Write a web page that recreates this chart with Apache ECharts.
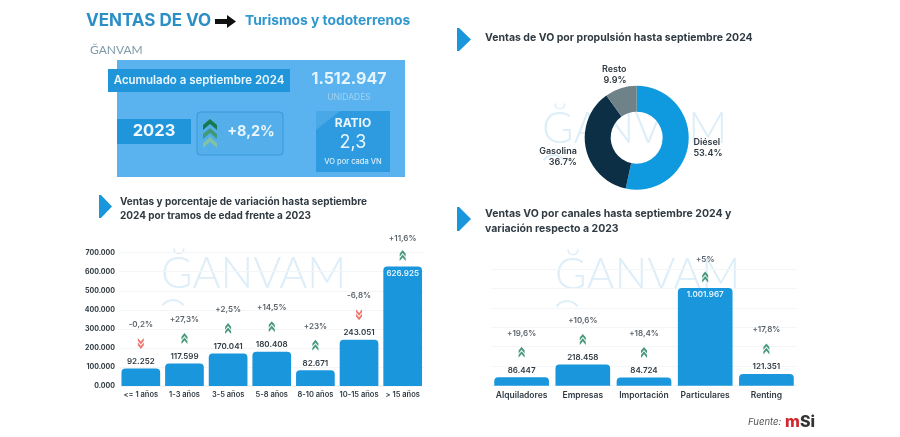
<!DOCTYPE html>
<html>
<head>
<meta charset="utf-8">
<script src="https://cdn.jsdelivr.net/npm/echarts@6/dist/echarts.min.js"></script>
<style>
html,body{margin:0;padding:0;background:#fff;}
#chart{width:900px;height:437px;}
</style>
</head>
<body>
<div id="chart"></div>
<script>
// tramos de edad
var ageCategories = ['<= 1 años','1-3 años','3-5 años','5-8 años','8-10 años','10-15 años','> 15 años'];
var ageValues = [92252,117599,170041,180408,82671,243051,626925];
var ageVariation = ['-0,2%','+27,3%','+2,5%','+14,5%','+23%','-6,8%','+11,6%'];
var ageTicks = ['0.000','100.000','200.000','300.000','400.000','500.000','600.000','700.000'];

// canales
var channelCategories = ['Alquiladores','Empresas','Importación','Particulares','Renting'];
var channelValues = [86447,218458,84724,1001967,121351];
var channelVariation = ['+19,6%','+10,6%','+18,4%','+5%','+17,8%'];

// propulsion
var fuelNames = ['Diésel','Gasolina','Resto'];
var fuelShares = [53.4,36.7,9.9];

var FONT = 'Inter, "Noto Sans", sans-serif';
var BLUE = '#1a96dc';
var DARK = '#2f3a42';
var UP_ICON = 'path://M5 0L10 5V9L5 4L0 9V5ZM5 6L10 11V15L5 10L0 15V11Z';
var DOWN_ICON = 'path://M0 0L5 5L10 0V4L5 9L0 4ZM0 6L5 11L10 6V10L5 15L0 10Z';

function formatDots(v){
    return String(v).replace(/\B(?=(\d{3})+$)/g,'.');
}

// barras + valor + flecha + porcentaje, todo sobre los ejes del grid
function barSeries(idx, values, variation, barWidth, insideFrom){
    var isInside = function(v){ return v >= insideFrom; };
    return [{
        type:'bar', xAxisIndex:idx, yAxisIndex:idx, barWidth:barWidth, z:3,
        itemStyle:{color:BLUE, borderRadius:[4,4,0,0]},
        data:values.map(function(v){
            return {value:v, label:{
                show:true,
                position:isInside(v) ? 'insideTop' : 'top',
                distance:3,
                color:isInside(v) ? '#e8f5fd' : DARK,
                fontFamily:FONT, fontSize:8, fontWeight:600,
                formatter:formatDots(v)
            }};
        })
    },{
        type:'scatter', xAxisIndex:idx, yAxisIndex:idx, z:4, silent:true,
        symbolSize:[6,11],
        data:values.map(function(v,i){
            var down = variation[i].charAt(0) === '-';
            return {
                value:v,
                symbol:down ? DOWN_ICON : UP_ICON,
                symbolOffset:[0, isInside(v) ? -11 : -25],
                itemStyle:{color:down ? '#e5574b' : '#1a7f57'}
            };
        })
    },{
        type:'scatter', xAxisIndex:idx, yAxisIndex:idx, z:4, silent:true,
        symbolSize:1, itemStyle:{color:'transparent'},
        data:values.map(function(v,i){
            return {value:v, label:{
                show:true, position:'inside',
                offset:[0, isInside(v) ? -28 : -44],
                color:DARK, fontFamily:FONT, fontSize:8, fontWeight:600,
                formatter:variation[i]
            }};
        })
    }];
}

function watermark(x,y){
    return [{
        type:'text', z:-1, silent:true, left:x, top:y,
        style:{text:'ĞANVAM', fontFamily:'Lato, "Open Sans", sans-serif', fontWeight:300, fontSize:43, fill:'#deeef9'}
    },{
        type:'arc', z:-1, silent:true, shape:{cx:x+12, cy:y+60, r:13, startAngle:Math.PI*1.2, endAngle:Math.PI*1.8},
        style:{fill:'none', stroke:'#deeef9', lineWidth:2}
    }];
}
function triangle(x,y,w,h){
    return {
        type:'polygon', silent:true,
        shape:{points:[[x,y],[x+w*0.15,y],[x+w,y+h/2],[x+w*0.15,y+h],[x,y+h]]},
        style:{fill:BLUE}
    };
}
function rect(x,y,w,h,fill,extra){
    var r = {type:'rect', silent:true, shape:{x:x,y:y,width:w,height:h,r:(extra && extra.r) || 0}, style:{fill:fill}};
    if(extra && extra.stroke){ r.style.stroke = extra.stroke; r.style.lineWidth = 1; }
    return r;
}
function text(x,y,str,size,weight,fill,align,family,style){
    return {
        type:'text', silent:true, x:x, y:y,
        style:{text:str, fontSize:size, fontWeight:weight, fill:fill, textAlign:align || 'left', textVerticalAlign:'middle', fontFamily:family || FONT, fontStyle:style || 'normal'}
    };
}
function chevron(cx,y,fill){
    return {type:'polygon', silent:true, shape:{points:[[cx,y],[cx+7,y+6],[cx+7,y+11],[cx,y+5],[cx-7,y+11],[cx-7,y+6]]}, style:{fill:fill}};
}

var graphics = [].concat(
    watermark(161,253),
    watermark(555,254),
    watermark(542,108),
    [
    text(86,21,'VENTAS DE VO',17,700,'#2b8fc6'),
    {type:'polygon', silent:true, shape:{points:[[215,19],[227,19],[227,15],[236,21.5],[227,28],[227,24],[215,24]]}, style:{fill:'#111'}},
    text(245,21,'Turismos y todoterrenos',13.8,700,'#3097cf'),
    text(90,50,'ĞANVAM',12,400,'#7f9aa8','left','Lato, sans-serif'),

    rect(117,60,288,117,'#5ab3ee'),
    rect(108,69,182,23,'#2095da'),
    text(199,81,'Acumulado a septiembre 2024',11.5,600,'#eaf6fd','center'),
    text(349,79,'1.512.947',16,700,'#e6f4fd','center'),
    text(349,97,'UNIDADES',8.5,400,'#9fd2f3','center'),
    rect(117,119,74,25,'#2095da'),
    text(154,131,'2023',16.5,700,'#f2f9fe','center'),
    rect(197,112,86,43,'#53aeea',{r:3,stroke:'#3a98d6'}),
    chevron(210,119,'#17794f'),
    chevron(210,128,'#3f9a78'),
    chevron(210,137,'#7fc2a8'),
    text(251,132,'+8,2%',14.5,700,'#eaf6fd','center'),
    rect(316,111,74,61,'#2e9ae0'),
    {type:'polygon', silent:true, shape:{points:[[316,111],[340,111],[316,130]]}, style:{fill:'#4aa8e6'}},
    text(353,123,'RATIO',12,700,'#eaf6fd','center'),
    text(353,143,'2,3',18,400,'#eaf6fd','center'),
    text(353,162,'VO por cada VN',7.5,500,'#d8eefb','center'),

    triangle(457,28,14,23),
    text(485,38,'Ventas de VO por propulsión hasta septiembre 2024',10.5,700,DARK),
    triangle(99,195,13,23),
    text(120,202,'Ventas y porcentaje de variación hasta septiembre',10,700,DARK),
    text(120,216,'2024 por tramos de edad frente a 2023',10,700,DARK),
    triangle(457,207,14,24),
    text(485,214,'Ventas VO por canales hasta septiembre 2024 y',10.5,700,DARK),
    text(485,229,'variación respecto a 2023',10.5,700,DARK),

    text(748,422,'Fuente:',9.5,400,'#555','left',FONT,'italic'),
    text(785,422,'m',16,800,'#d0282e','left'),
    text(800,422,'Si',16,800,'#333','left')
    ]
);

var axisLabelBase = {color:DARK, fontFamily:FONT, fontWeight:600};

// ajuste fino de las etiquetas del anillo
var fuelLabelShift = {'Diésel':[-6,4],'Gasolina':[2,8],'Resto':[14,-10]};

var option = {
    animation:false,
    backgroundColor:'#fff',
    graphic:{elements:graphics},
    grid:[
        {left:119, top:252.7, width:305.5, height:133.3, containLabel:false},
        {left:491, top:268.8, width:306, height:116.9, containLabel:false}
    ],
    xAxis:[
        {gridIndex:0, type:'category', data:ageCategories, axisLine:{show:false}, axisTick:{show:false},
         axisLabel:Object.assign({}, axisLabelBase, {fontSize:7.5, margin:5, interval:0})},
        {gridIndex:1, type:'category', data:channelCategories, axisLine:{show:false}, axisTick:{show:false},
         axisLabel:Object.assign({}, axisLabelBase, {fontSize:8.5, margin:5, interval:0})}
    ],
    yAxis:[
        {gridIndex:0, type:'value', min:0, max:700000, interval:100000,
         splitLine:{lineStyle:{color:'#f4f5f6'}}, axisLine:{show:false}, axisTick:{show:false},
         axisLabel:Object.assign({}, axisLabelBase, {fontSize:7, fontWeight:700, margin:4, formatter:function(v){ return ageTicks[v/100000]; }})},
        {gridIndex:1, type:'value', min:0, max:1200000, interval:200000,
         splitLine:{lineStyle:{color:'#f4f5f6'}}, axisLine:{show:false}, axisTick:{show:false},
         axisLabel:{show:false}}
    ],
    series:[].concat(
        barSeries(0, ageValues, ageVariation, 38.7, 500000),
        barSeries(1, channelValues, channelVariation, 54.7, 500000),
        [{
            type:'pie', center:[636.7,137.7], radius:[26,52], startAngle:90, z:3, silent:true,
            label:{show:true, position:'outside', color:DARK, fontFamily:FONT, fontSize:9, fontWeight:600, lineHeight:11,
                   align:'center', formatter:function(p){ return p.name + '\n' + p.value.toFixed(1) + '%'; }},
            labelLine:{show:false, length:4, length2:2},
            labelLayout:function(p){
                var s = fuelLabelShift[fuelNames[p.dataIndex]];
                return {dx:s[0], dy:s[1]};
            },
            color:['#0f9ae0','#0c2f45','#6f8288'],
            data:fuelNames.map(function(n,i){ return {name:n, value:fuelShares[i]}; })
        }]
    )
};

var myChart = echarts.init(document.getElementById('chart'));
myChart.setOption(option);
</script>
</body>
</html>
